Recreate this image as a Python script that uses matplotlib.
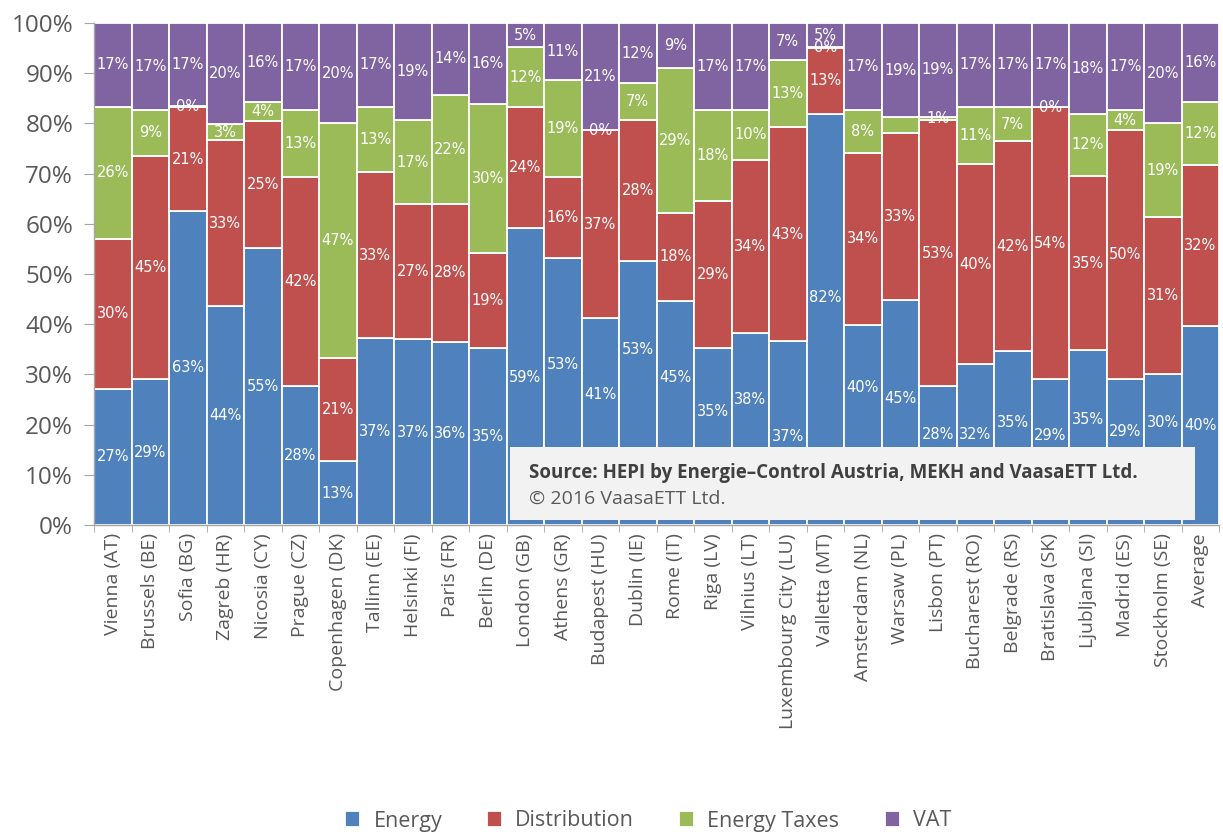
import matplotlib
matplotlib.use("Agg")
import matplotlib.pyplot as plt
from matplotlib.patches import Rectangle
from matplotlib.ticker import FixedLocator, PercentFormatter
import numpy as np

plt.rcParams['font.family'] = ['Open Sans', 'DejaVu Sans']

cities = ["Vienna (AT)", "Brussels (BE)", "Sofia (BG)", "Zagreb (HR)", "Nicosia (CY)",
          "Prague (CZ)", "Copenhagen (DK)", "Tallinn (EE)", "Helsinki (FI)", "Paris (FR)",
          "Berlin (DE)", "London (GB)", "Athens (GR)", "Budapest (HU)", "Dublin (IE)",
          "Rome (IT)", "Riga (LV)", "Vilnius (LT)", "Luxembourg City (LU)", "Valletta (MT)",
          "Amsterdam (NL)", "Warsaw (PL)", "Lisbon (PT)", "Bucharest (RO)", "Belgrade (RS)",
          "Bratislava (SK)", "Ljubljana (SI)", "Madrid (ES)", "Stockholm (SE)", "Average"]

energy = [27.1, 29.0, 62.6, 43.6, 55.2, 27.7, 12.7, 37.2, 37.0, 36.4,
          35.3, 59.1, 53.2, 41.2, 52.6, 44.6, 35.3, 38.3, 36.6, 81.9,
          39.8, 44.9, 27.6, 32.0, 34.6, 29.0, 34.8, 29.0, 30.0, 39.6]
distribution = [29.9, 44.6, 20.6, 33.0, 25.3, 41.7, 20.6, 33.1, 26.9, 27.6,
                18.8, 24.1, 16.1, 37.4, 28.1, 17.6, 29.3, 34.4, 42.6, 13.2,
                34.4, 33.1, 53.0, 39.9, 41.8, 54.2, 34.7, 49.6, 31.3, 32.2]
energy_taxes = [26.3, 9.1, 0.2, 3.3, 3.8, 13.3, 46.7, 13.0, 16.8, 21.7,
                29.8, 12.0, 19.4, 0.1, 7.3, 28.8, 18.1, 10.0, 13.4, 0.1,
                8.4, 3.2, 0.7, 11.4, 6.9, 0.1, 12.4, 4.1, 18.7, 12.4]
vat = [16.7, 17.3, 16.6, 20.1, 15.7, 17.3, 20.0, 16.7, 19.3, 14.3,
       16.1, 4.8, 11.3, 21.3, 12.0, 9.0, 17.3, 17.3, 7.4, 4.8,
       17.4, 18.8, 18.7, 16.7, 16.7, 16.7, 18.1, 17.3, 20.0, 15.8]

series_names = ["Energy", "Distribution", "Energy Taxes", "VAT"]
series_values = [energy, distribution, energy_taxes, vat]
colors = ["#4F81BD", "#C0504D", "#9BBB59", "#8064A2"]

# segments that carry no value label (too thin to print)
unlabelled = {("Warsaw (PL)", "Energy Taxes")}

# Energy labels lifted above the source box (label height in axis %)
energy_label_pos = {
    "London (GB)": 29.3, "Athens (GR)": 31.9, "Budapest (HU)": 25.9, "Dublin (IE)": 35.0,
    "Rome (IT)": 29.3, "Riga (LV)": 22.7, "Vilnius (LT)": 25.0,
    "Luxembourg City (LU)": 17.7, "Valletta (MT)": 45.4, "Amsterdam (NL)": 27.3,
    "Warsaw (PL)": 25.1, "Lisbon (PT)": 18.1, "Bucharest (RO)": 18.1,
    "Belgrade (RS)": 20.5, "Bratislava (SK)": 17.8, "Ljubljana (SI)": 21.1,
    "Madrid (ES)": 18.7, "Stockholm (SE)": 20.5,
}

W, H = 1223, 835
fig = plt.figure(figsize=(W / 100, H / 100), dpi=100)
ax = fig.add_axes([94 / W, (H - 525) / H, (1219 - 94) / W, (525 - 23) / H])

x = np.arange(len(cities))
bottom = np.zeros(len(cities))
for name, vals, col in zip(series_names, series_values, colors):
    vals = np.array(vals, dtype=float)
    ax.bar(x, vals, width=1.0, bottom=bottom, color=col, edgecolor="white",
           linewidth=1.3, label=name, zorder=2)
    for i, v in enumerate(vals):
        if (cities[i], name) in unlabelled:
            continue
        ypos = bottom[i] + v / 2
        if name == "Energy" and cities[i] in energy_label_pos:
            ypos = energy_label_pos[cities[i]]
        ax.text(x[i], ypos, f"{v:.0f}%", ha="center", va="center",
                color="white", fontsize=10.5, family="DejaVu Sans", zorder=4)
    bottom += vals

ax.set_xlim(-0.5, len(cities) - 0.5)
ax.set_ylim(0, 100)
ax.yaxis.set_major_locator(FixedLocator(np.arange(0, 101, 10)))
ax.yaxis.set_major_formatter(PercentFormatter(decimals=0))
ax.grid(axis="y", color="#D9D9D9", linewidth=0.8, zorder=0)
ax.set_axisbelow(True)

ax.set_xticks(x)
ax.set_xticklabels(cities, rotation=90, fontsize=14, color="#595959")
ax.set_xticks(np.arange(-0.5, len(cities), 1.0), minor=True)
ax.tick_params(axis="x", which="major", length=0, pad=6)
ax.tick_params(axis="x", which="minor", length=5, color="#A6A6A6")
ax.tick_params(axis="y", length=7, color="#A6A6A6", labelsize=17.5,
               labelcolor="#595959", pad=8)

for side in ["top", "right"]:
    ax.spines[side].set_visible(False)
for side in ["left", "bottom"]:
    ax.spines[side].set_color("#A6A6A6")
    ax.spines[side].set_linewidth(1.0)
    ax.spines[side].set_zorder(5)

# source box
box_x0, box_y0, box_x1, box_y1 = 510, 447, 1195, 520
fig.patches.append(Rectangle((box_x0 / W, (H - box_y1) / H),
                             (box_x1 - box_x0) / W, (box_y1 - box_y0) / H,
                             transform=fig.transFigure, facecolor="#F2F2F2",
                             edgecolor="none", zorder=10))
fig.text(529 / W, (H - 473) / H,
         "Source: HEPI by Energie\u2013Control Austria, MEKH and VaasaETT Ltd.",
         fontsize=13.5, fontweight="bold", color="#404040", va="center", zorder=11)
fig.text(529 / W, (H - 499) / H, "\u00a9 2016 VaasaETT Ltd.",
         fontsize=14, color="#595959", va="center", zorder=11)

leg = fig.legend(loc="center", bbox_to_anchor=(0.53, (H - 821) / H), ncol=4,
                 frameon=False, fontsize=15.5, handlelength=0.7, handleheight=0.7,
                 handletextpad=0.6, columnspacing=2.1)
for t in leg.get_texts():
    t.set_color("#595959")

fig.savefig("out.png", dpi=100)
